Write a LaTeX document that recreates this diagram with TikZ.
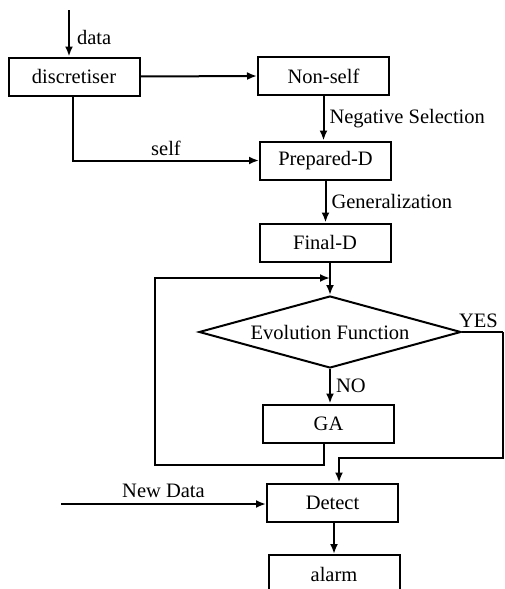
\documentclass[tikz,border=0pt]{standalone}
\usepackage{fontspec}
\setmainfont{Liberation Serif}
\usepackage{tikz}
\usetikzlibrary{calc, shapes.geometric, arrows.meta}

\begin{document}
\begin{tikzpicture}[x=1pt, y=-1pt, line width=2pt, >={Latex[length=10pt, width=8pt]},
        box/.style={draw, minimum width=131pt, minimum height=38pt, inner sep=0pt},
        decision/.style={draw, diamond, aspect=3.6, minimum width=262pt, minimum height=72pt, inner sep=0pt},
        lbl/.style={inner sep=1pt}]
        \useasboundingbox (0,0) rectangle (505,589);
        \fontsize{20.5}{24}\selectfont

        \node[box] (disc) at (74, 76.5) {discretiser};
        \node[box] (nonself) at (323.5, 76) {Non-self};
        \node[box] (prep) at (325.5, 160.5) {Prepared-D};
        \node[box] (final) at (325, 242.5) {Final-D};
        \node[decision] (evo) at (330, 332) {Evolution Function};
        \node[box] (ga) at (328.5, 423.5) {GA};
        \node[box] (detect) at (332.5, 502.5) {Detect};
        \node[box] (alarm) at (334, 574) {alarm};

        \coordinate (datain) at (69, 10);
        \coordinate (newin) at (61, 504);
        \coordinate (loopjoin) at (330, 278);
        \coordinate (yesR) at (503, 332);

        \draw[->] (datain) -- (datain |- disc.north) node[lbl, pos=0.6, right=6pt] {data};
        \draw[->] (disc.east) -- (nonself.west);
        \draw[->] (nonself.south) -- (nonself.south |- prep.north)
            node[lbl, midway, right=4pt] {Negative Selection};
        \draw[->] ([xshift=-1pt]disc.south) |- (prep.west) node[lbl, pos=0.75, above=3pt] {self};
        \draw[->] (prep.south) -- (prep.south |- final.north)
            node[lbl, midway, right=4pt] {Generalization};
        \draw[->] (final.south -| loopjoin) -- (evo.north);
        \draw[->] (evo.south) -- (evo.south |- ga.north) node[lbl, midway, right=4pt] {NO};

        % loop back from GA
        \draw[->] ([xshift=-5pt]ga.south) -- ++(0, 21) -| ($(loopjoin)+(-175, 0)$) -- (loopjoin);

        % YES branch to detect
        \draw (evo.east) -- (yesR) node[lbl, pos=0.4, above=2pt] {YES};
        \draw[->] (yesR) -- (yesR |- 0, 458) -| ([xshift=6.5pt]detect.north);

        \draw[->] (newin) -- (detect.west |- newin) node[lbl, pos=0.5, above=4pt] {New Data};
        \draw[->] (detect.south -| alarm.north) -- (alarm.north);
    \end{tikzpicture}
\end{document}
